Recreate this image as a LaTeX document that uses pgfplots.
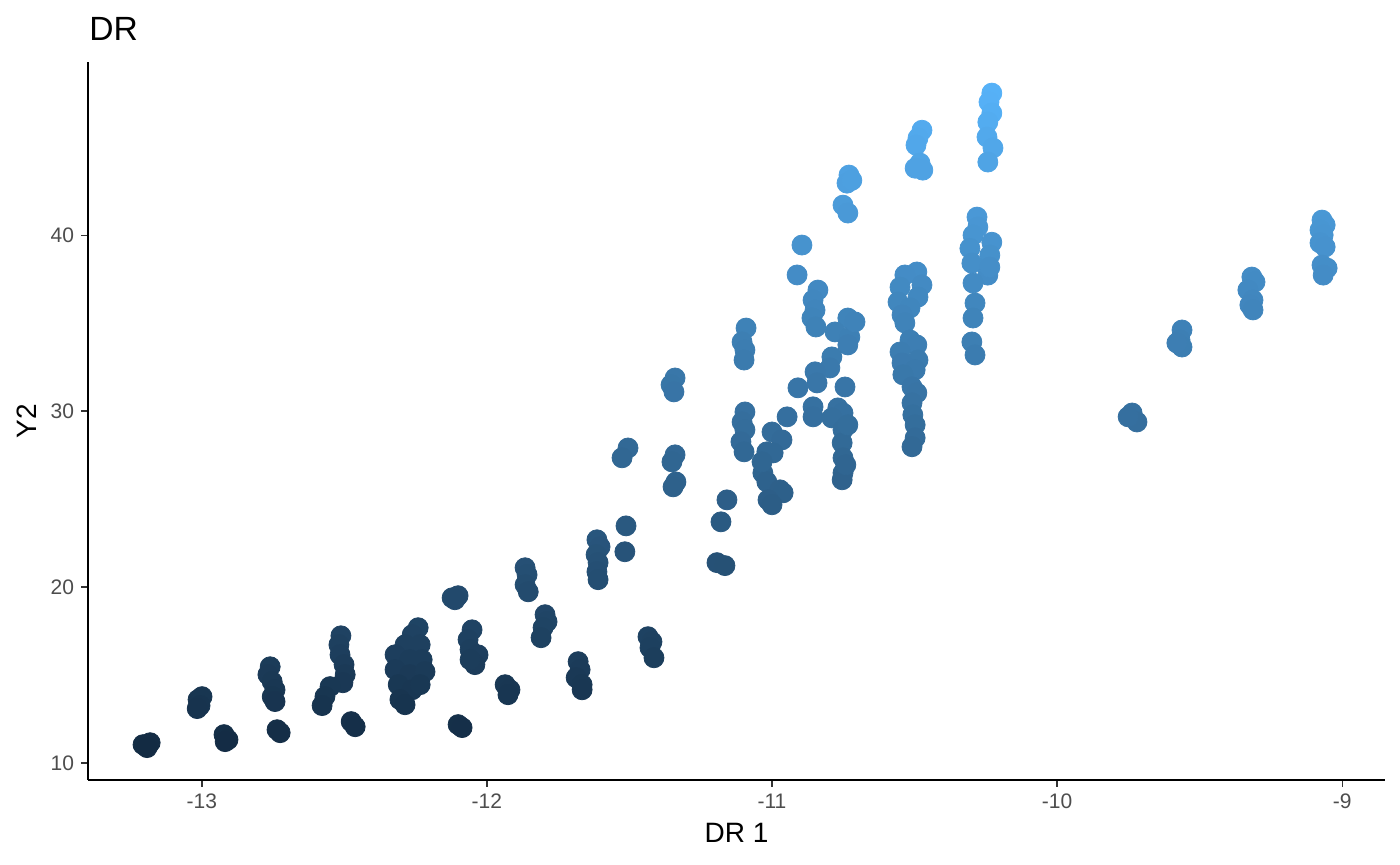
\documentclass[border=0pt]{standalone}
\usepackage{fontspec}
\setmainfont{Liberation Sans}
\usepackage{pgfplots}
\pgfplotsset{compat=1.18}
\definecolor{ticklab}{HTML}{4D4D4D}
\begin{document}
\begin{tikzpicture}[x=1pt,y=1pt]
\useasboundingbox (0,0) rectangle (700,432.5);
\begin{axis}[
 at={(44pt,42.5pt)}, anchor=south west, scale only axis,
 width=648.5pt, height=359pt,
 xmin=-13.399, xmax=-8.85, ymin=9.03, ymax=49.86,
 axis x line*=bottom, axis y line*=left,
 axis line style={line width=0.75pt, black},
 xtick={-13,-12,-11,-10,-9}, xticklabels={-13,-12,-11,-10,-9},
 ytick={10,20,30,40}, yticklabels={10,20,30,40},
 tick align=outside, major tick length=3.5pt,
 tick style={line width=0.75pt, color=black!80},
 ticklabel style={font=\fontsize{10.5}{12}\selectfont, text=ticklab},
 xlabel={DR 1}, ylabel={Y2},
 label style={font=\fontsize{14}{16}\selectfont},
 xlabel style={at={(axis description cs:0.5,-0.0738)}, anchor=center},
 ylabel style={at={(axis description cs:-0.047,0.5)}, anchor=center},
 title={DR},
 title style={at={(axis description cs:0.0008,1.0297)}, anchor=base west, inner sep=0pt, yshift=-6pt, font=\fontsize{16.8}{18}\selectfont},
 colormap={gg}{rgb255(0cm)=(19,43,67); rgb255(1cm)=(86,177,247)},
 point meta min=10.87, point meta max=48.09,
]
\addplot[scatter, only marks, mark=*, mark size=5pt,
  scatter/use mapped color={draw=mapped color, fill=mapped color}]
 table[x=x,y=y] {
x y
-13.206 11.04
-13.181 11.15
-13.192 10.87
-13.013 13.60
-12.999 13.77
-13.006 13.26
-13.016 13.09
-12.922 11.61
-12.908 11.32
-12.918 11.21
-12.760 15.47
-12.768 15.02
-12.753 14.62
-12.743 14.16
-12.753 13.77
-12.743 13.49
-12.736 11.89
-12.725 11.72
-12.512 17.23
-12.519 16.72
-12.515 16.15
-12.501 15.59
-12.497 15.02
-12.505 14.56
-12.550 14.34
-12.568 13.77
-12.578 13.26
-12.476 12.35
-12.462 12.06
-12.241 17.69
-12.262 17.29
-12.287 16.72
-12.234 16.72
-12.322 16.15
-12.270 15.87
-12.227 15.87
-12.322 15.30
-12.270 15.02
-12.217 15.19
-12.311 14.45
-12.262 14.16
-12.305 13.60
-12.287 13.31
-12.234 14.45
-12.122 19.39
-12.101 19.51
-12.112 19.28
-12.052 17.57
-12.066 17.01
-12.059 16.44
-12.031 16.15
-12.042 15.59
-12.059 15.87
-12.101 12.18
-12.087 12.01
-11.936 14.45
-11.919 14.16
-11.926 13.88
-11.866 21.10
-11.859 20.70
-11.866 20.13
-11.855 19.73
-11.796 18.43
-11.789 18.03
-11.803 17.69
-11.810 17.12
-11.680 15.76
-11.673 15.30
-11.687 14.85
-11.666 14.45
-11.666 14.16
-11.435 17.18
-11.421 16.89
-11.428 16.55
-11.414 15.98
-11.614 22.69
-11.603 22.29
-11.617 21.84
-11.610 21.39
-11.614 20.87
-11.610 20.42
-11.512 23.48
-11.516 22.01
-11.505 27.91
-11.526 27.35
-11.340 27.52
-11.351 27.12
-11.337 25.98
-11.347 25.70
-11.340 31.89
-11.354 31.50
-11.344 31.10
-11.158 24.96
-11.179 23.71
-11.193 21.39
-11.165 21.22
-11.091 34.73
-11.105 33.94
-11.095 33.48
-11.098 32.91
-11.095 29.96
-11.105 29.39
-11.095 28.94
-11.109 28.26
-11.098 27.69
-10.947 29.68
-11.000 28.82
-10.965 28.37
-11.018 27.69
-10.996 27.63
-11.032 26.49
-11.018 25.98
-10.972 25.53
-10.961 25.36
-11.014 24.96
-11.000 24.68
-11.035 27.12
-10.839 36.89
-10.856 36.32
-10.849 35.75
-10.860 35.30
-10.846 34.79
-10.895 39.45
-10.912 37.75
-10.734 35.30
-10.779 34.51
-10.727 34.22
-10.734 33.77
-10.790 33.09
-10.797 32.46
-10.709 35.08
-10.849 32.24
-10.842 31.61
-10.909 31.33
-10.856 30.25
-10.856 29.68
-10.744 31.38
-10.769 30.19
-10.751 29.90
-10.790 29.62
-10.751 28.94
-10.754 28.20
-10.751 27.35
-10.751 26.49
-10.754 26.10
-10.734 29.22
-10.741 26.95
-10.730 43.43
-10.737 42.97
-10.751 41.72
-10.734 41.27
-10.720 43.13
-10.474 45.98
-10.488 45.53
-10.495 45.13
-10.481 44.11
-10.498 43.82
-10.471 43.71
-10.229 48.09
-10.239 47.58
-10.229 46.95
-10.243 46.44
-10.246 45.59
-10.225 44.97
-10.243 44.17
-10.281 41.04
-10.278 40.47
-10.295 40.01
-10.229 39.61
-10.306 39.26
-10.236 38.88
-10.299 38.42
-10.243 37.74
-10.236 38.19
-10.295 37.29
-10.288 36.15
-10.295 35.30
-10.299 33.94
-10.288 33.20
-10.492 37.92
-10.534 37.75
-10.474 37.18
-10.551 37.05
-10.488 36.49
-10.558 36.21
-10.516 35.87
-10.544 35.47
-10.534 35.02
-10.516 34.05
-10.492 33.77
-10.551 33.37
-10.488 32.91
-10.544 32.74
-10.498 32.35
-10.541 32.07
-10.509 31.38
-10.492 31.04
-10.509 30.47
-10.506 29.79
-10.498 29.22
-10.498 28.48
-10.509 27.98
-9.737 29.90
-9.720 29.39
-9.751 29.68
-9.562 34.62
-9.569 34.05
-9.562 33.65
-9.580 33.88
-9.317 37.63
-9.306 37.35
-9.331 36.89
-9.313 36.32
-9.324 36.04
-9.313 35.76
-9.071 40.87
-9.060 40.59
-9.078 40.30
-9.067 40.02
-9.078 39.57
-9.060 39.34
-9.071 38.31
-9.053 38.14
-9.067 37.74
};
\end{axis}
\end{tikzpicture}
\end{document}
